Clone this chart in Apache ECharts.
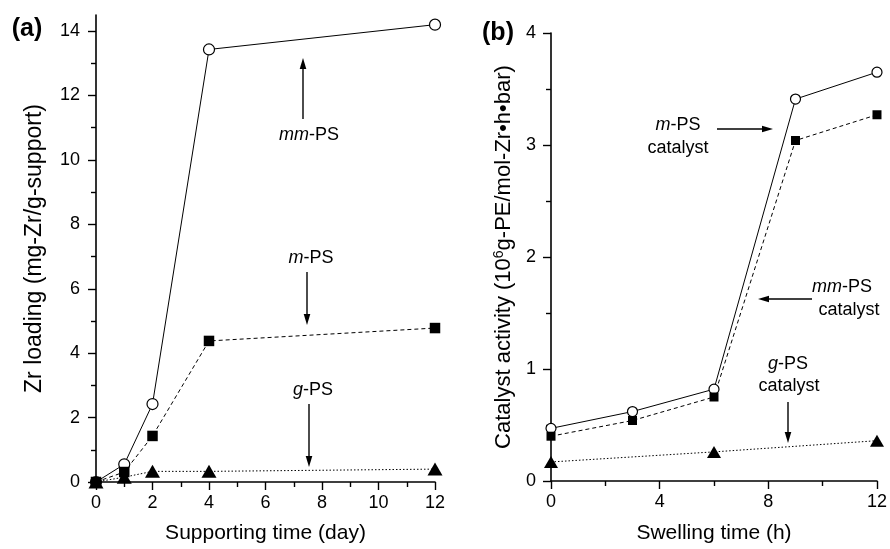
<!DOCTYPE html>
<html>
<head>
<meta charset="utf-8">
<script src="https://cdn.jsdelivr.net/npm/echarts@6/dist/echarts.min.js"></script>
<style>
  html, body { margin: 0; padding: 0; background: #fff; }
  #main { width: 890px; height: 549px; }
</style>
</head>
<body>
<div id="main"></div>
<script>
// (a) Zr loading vs supporting time
const daysA = [0, 1, 2, 4, 12];
const mmLoading = [0, 0.55, 2.42, 13.43, 14.2];
const mLoading = [0, 0.31, 1.43, 4.38, 4.78];
const gLoading = [0, 0.15, 0.33, 0.33, 0.4];
const yTicksA = [0, 2, 4, 6, 8, 10, 12, 14];
const yMinorA = [1, 3, 5, 7, 9, 11, 13];

// (b) catalyst activity vs swelling time
const hoursB = [0, 3, 6, 9, 12];
const mmActivity = [0.47, 0.62, 0.82, 3.41, 3.65];
const mActivity = [0.4, 0.54, 0.75, 3.04, 3.27];
const hoursBg = [0, 6, 12];
const gActivity = [0.17, 0.26, 0.36];

const FONT = "'Liberation Sans', Arial, sans-serif";

function pairs(xs, ys) {
  return xs.map((x, i) => [x, ys[i]]);
}

function xAxisOf(grid, name, interval, gap) {
  return {
    type: 'value', gridIndex: grid, min: 0, max: 12, interval: interval,
    name: name, nameLocation: 'middle', nameGap: gap,
    nameTextStyle: { fontFamily: FONT, fontSize: 21, color: '#000' },
    axisLine: { onZero: false, lineStyle: { color: '#000', width: 1.6 } },
    axisTick: { length: 8, lineStyle: { color: '#000', width: 1.4 } },
    minorTick: { show: true, splitNumber: 2, length: 5, lineStyle: { color: '#000', width: 1.4 } },
    axisLabel: { fontFamily: FONT, fontSize: 18, color: '#000', margin: 12 },
    splitLine: { show: false }
  };
}

const sym = {
  mm: { symbol: 'circle', itemStyle: { color: '#fff', borderColor: '#000', borderWidth: 1.2 } },
  m: { symbol: 'rect', itemStyle: { color: '#000' } },
  g: { symbol: 'triangle', itemStyle: { color: '#000' } }
};

function line(name, x, y, data, kind, dash, size) {
  return Object.assign({
    name: name, type: 'line', xAxisIndex: x, yAxisIndex: y,
    data: data, symbolSize: size, clip: false,
    lineStyle: { color: '#000', width: 1, type: dash },
    emphasis: { disabled: true }, animation: false
  }, sym[kind]);
}

// arrows for the annotations
function arrow(x1, y1, x2, y2) {
  const len = Math.hypot(x2 - x1, y2 - y1);
  const ux = (x2 - x1) / len, uy = (y2 - y1) / len;
  const bx = x2 - ux * 11, by = y2 - uy * 11;
  return [
    { type: 'line', shape: { x1: x1, y1: y1, x2: bx, y2: by }, style: { stroke: '#000', lineWidth: 1.4 } },
    { type: 'polygon', shape: { points: [[x2, y2], [bx - uy * 3.3, by + ux * 3.3], [bx + uy * 3.3, by - ux * 3.3]] }, style: { fill: '#000' } }
  ];
}

function label(x, y, text, size) {
  return {
    type: 'text', x: x, y: y,
    style: {
      text: text, fill: '#000', font: (size || 18) + 'px ' + FONT,
      align: 'center', verticalAlign: 'middle',
      rich: { i: { fontStyle: 'italic', fontSize: size || 18, fontFamily: FONT } }
    }
  };
}

const chart = echarts.init(document.getElementById('main'));

const option = {
  backgroundColor: '#fff',
  animation: false,
  grid: [
    { left: 96, top: 15, width: 339, height: 470 },
    { left: 551, top: 33, width: 328, height: 451 }
  ],
  xAxis: [
    xAxisOf(0, 'Supporting time (day)', 2, 41),
    xAxisOf(1, 'Swelling time (h)', 4, 42)
  ],
  yAxis: [
    {
      type: 'value', gridIndex: 0, min: 0, max: 14.5, interval: 2, position: 'left',
      name: 'Zr loading (mg-Zr/g-support)', nameLocation: 'middle', nameGap: 50,
      nameTextStyle: { fontFamily: FONT, fontSize: 23, color: '#000' },
      axisLine: { lineStyle: { color: '#000', width: 1.6 } },
      axisTick: { customValues: yTicksA, length: 8, lineStyle: { color: '#000', width: 1.4 } },
      axisLabel: { customValues: yTicksA, fontFamily: FONT, fontSize: 18, color: '#000', margin: 16 },
      splitLine: { show: false }
    },
    {
      // minor ticks of (a)
      type: 'value', gridIndex: 0, min: 0, max: 14.5, position: 'left',
      axisLine: { show: false },
      axisTick: { customValues: yMinorA, length: 5, lineStyle: { color: '#000', width: 1.4 } },
      axisLabel: { show: false },
      splitLine: { show: false }
    },
    {
      type: 'value', gridIndex: 1, min: 0, max: 4, interval: 1,
      name: 'Catalyst activity (10{sup|6}g-PE/mol-Zr\u2022h\u2022bar)', nameLocation: 'middle', nameGap: 35,
      nameTextStyle: {
        fontFamily: FONT, fontSize: 22, color: '#000',
        rich: { sup: { fontFamily: FONT, fontSize: 14, verticalAlign: 'top', padding: [0, 0, 10, 0] } }
      },
      axisLine: { lineStyle: { color: '#000', width: 1.6 } },
      axisTick: { length: 8, lineStyle: { color: '#000', width: 1.4 } },
      minorTick: { show: true, splitNumber: 2, length: 5, lineStyle: { color: '#000', width: 1.4 } },
      axisLabel: { fontFamily: FONT, fontSize: 18, color: '#000', margin: 15 },
      splitLine: { show: false }
    }
  ],
  series: [
    line('mm-PS', 0, 0, pairs(daysA, mmLoading), 'mm', 'solid', 11),
    line('m-PS', 0, 0, pairs(daysA, mLoading), 'm', [4, 3], 10.5),
    line('g-PS', 0, 0, pairs(daysA, gLoading), 'g', [1.5, 2], [15, 13]),
    line('mm-PS catalyst', 1, 2, pairs(hoursB, mmActivity), 'mm', 'solid', 10),
    line('m-PS catalyst', 1, 2, pairs(hoursB, mActivity), 'm', [4, 3], 9),
    line('g-PS catalyst', 1, 2, pairs(hoursBg, gActivity), 'g', [1.5, 2], [14, 12])
  ],
  graphic: [
    { type: 'text', x: 27, y: 29, style: { text: '(a)', font: 'bold 25px ' + FONT, fill: '#000', align: 'center', verticalAlign: 'middle' } },
    { type: 'text', x: 498, y: 33, style: { text: '(b)', font: 'bold 25px ' + FONT, fill: '#000', align: 'center', verticalAlign: 'middle' } },
    label(309, 135, '{i|mm}-PS'),
    label(311, 258, '{i|m}-PS'),
    label(313, 390, '{i|g}-PS'),
    label(678, 125, '{i|m}-PS'),
    label(678, 148, 'catalyst'),
    label(842, 287, '{i|mm}-PS'),
    label(849, 310, 'catalyst'),
    label(788, 364, '{i|g}-PS'),
    label(789, 386, 'catalyst')
  ]
    .concat(arrow(303, 119, 303, 58))
    .concat(arrow(307, 272, 307, 325))
    .concat(arrow(309, 404, 309, 467))
    .concat(arrow(717, 129, 773, 129))
    .concat(arrow(812, 299, 758, 299))
    .concat(arrow(788, 402, 788, 443))
};

chart.setOption(option);
</script>
</body>
</html>
